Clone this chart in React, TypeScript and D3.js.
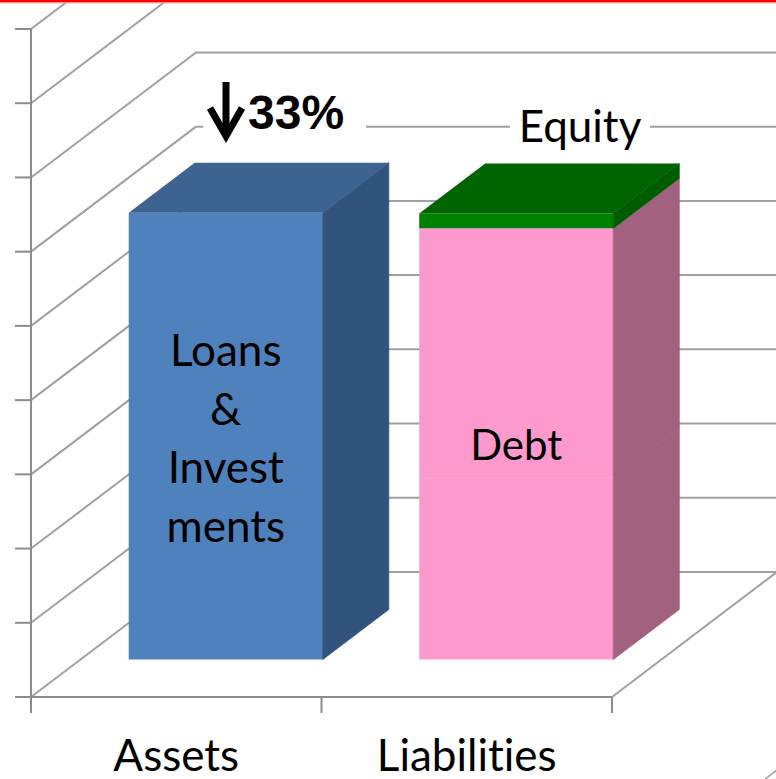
import React from "react";
import * as d3 from "d3";

// ---------- data ----------
const categories = ["Assets", "Liabilities"];
const loansInvestments = [6.02, 0];
const debtLower = [0, 2.45];
const debtUpper = [0, 3.36];
const equity = [0, 0.2];
const seriesKeys = ["loans", "debtLower", "debtUpper", "equity"];
const yTickValues = [0, 1, 2, 3, 4, 5, 6, 7, 8, 9];
const assetLabelLines = ["Loans", "&", "Invest", "ments"];
const debtLabel = "Debt";
const equityLabel = "Equity";
const changeLabel = "33%";

// ---------- styles ----------
const W = 776;
const H = 779;
const FONT = "Lato, 'Open Sans', sans-serif";
const faceColors: Record<string, { front: string; top: string; side: string }> = {
  loans: { front: "#4f81bd", top: "#3d6491", side: "#32547c" },
  debtLower: { front: "#fd99cc", top: "#c97aa3", side: "#a2627f" },
  debtUpper: { front: "#fd99cc", top: "#c97aa3", side: "#a2627f" },
  equity: { front: "#008000", top: "#006400", side: "#005c00" },
};

export default function App() {
  const floorY = 697;
  const axisX = 31;
  const plotRight = 612;
  const depth = { dx: 165, dy: -125 };
  const barDepth0 = 0.3;
  const barDepth1 = 0.7;

  const x = d3
    .scaleBand<string>()
    .domain(categories)
    .range([axisX, plotRight])
    .paddingInner(0.332)
    .paddingOuter(0.166);
  const y = d3.scaleLinear().domain([0, 9]).range([floorY, 29]);

  const table = categories.map((c, i) => ({
    category: c,
    loans: loansInvestments[i],
    debtLower: debtLower[i],
    debtUpper: debtUpper[i],
    equity: equity[i],
  }));
  const stacked = d3.stack<any>().keys(seriesKeys)(table);

  const off = (d: number) => [depth.dx * d, depth.dy * d];
  const [fdx, fdy] = off(barDepth0);
  const [bdx, bdy] = off(barDepth1);
  const ddx = bdx - fdx;
  const ddy = bdy - fdy;

  const gridColor = "#a0a0a0";
  const axisColor = "#8c8c8c";

  const topKey: Record<string, string> = {};
  categories.forEach((c, i) => {
    let last = "";
    stacked.forEach((s) => {
      if (s[i][1] - s[i][0] > 0) last = s.key;
    });
    topKey[c] = last;
  });

  const bars: React.ReactNode[] = [];
  categories.forEach((c, i) => {
    const x0 = (x(c) as number) + fdx;
    const x1 = x0 + x.bandwidth();
    stacked.forEach((s) => {
      const v0 = s[i][0];
      const v1 = s[i][1];
      if (v1 - v0 <= 0) return;
      const yb = y(v0) + fdy;
      const yt = y(v1) + fdy;
      const col = faceColors[s.key];
      bars.push(
        <g key={c + s.key}>
          <rect x={x0} y={yt} width={x1 - x0} height={yb - yt} fill={col.front} />
          <path
            d={`M${x1},${yt}L${x1 + ddx},${yt + ddy}L${x1 + ddx},${yb + ddy}L${x1},${yb}Z`}
            fill={col.side}
            stroke={col.side}
            strokeWidth={0.8}
          />
          {topKey[c] === s.key && (
            <path
              d={`M${x0},${yt}L${x0 + ddx},${yt + ddy}L${x1 + ddx},${yt + ddy}L${x1},${yt}Z`}
              fill={col.top}
            />
          )}
          {s.key === "debtLower" && (
            <line x1={x0} x2={x1} y1={yt} y2={yt} stroke="#ffb5db" strokeWidth={1} />
          )}
        </g>
      );
    });
  });

  const assetsCx = (x("Assets") as number) + fdx + x.bandwidth() / 2;
  const liabCx = (x("Liabilities") as number) + fdx + x.bandwidth() / 2;
  const debtMid = (y(0) + y(debtLower[1] + debtUpper[1])) / 2 + fdy;

  const tickGridY = yTickValues.map((v) => y(v));
  const textStyle = { fontVariantLigatures: "none" } as React.CSSProperties;

  return (
    <svg
      width={W}
      height={H}
      style={{ position: "absolute", left: 0, top: 0, background: "#fff" }}
    >
      <rect x={0} y={0} width={W} height={H} fill="#fff" />
      {/* left wall diagonals */}
      {tickGridY.map((ty, k) => (
        <line
          key={"d" + k}
          x1={axisX}
          y1={ty}
          x2={axisX + depth.dx}
          y2={ty + depth.dy}
          stroke={gridColor}
          strokeWidth={2}
        />
      ))}
      {/* back wall horizontals */}
      {tickGridY.map((ty, k) => (
        <line
          key={"h" + k}
          x1={axisX + depth.dx}
          y1={ty + depth.dy}
          x2={W}
          y2={ty + depth.dy}
          stroke={gridColor}
          strokeWidth={2}
        />
      ))}
      {/* floor */}
      <line x1={plotRight} y1={floorY} x2={plotRight + depth.dx} y2={floorY + depth.dy} stroke={gridColor} strokeWidth={2} />
      <line x1={765} y1={779} x2={777} y2={770} stroke={gridColor} strokeWidth={1.5} />
      <line x1={axisX} y1={floorY} x2={plotRight} y2={floorY} stroke={axisColor} strokeWidth={2} />
      {/* vertical axis */}
      <line x1={axisX} y1={y(9)} x2={axisX} y2={floorY + 16} stroke={axisColor} strokeWidth={2} />
      {yTickValues.map((v) => (
        <line key={"t" + v} x1={axisX - 16} x2={axisX} y1={y(v)} y2={y(v)} stroke={axisColor} strokeWidth={2} />
      ))}
      {[axisX, axisX + x.step(), plotRight].map((tx, i) => (
        <line key={"ct" + i} x1={tx} x2={tx} y1={floorY} y2={floorY + 16} stroke={axisColor} strokeWidth={2} />
      ))}
      {/* bars */}
      {bars}
      {/* labels */}
      <g fontFamily={FONT} fontSize={44} fill="#000" textAnchor="middle" style={textStyle}>
        {assetLabelLines.map((t, i) => (
          <text key={t} x={assetsCx} y={366 + i * 58.7}>
            {t}
          </text>
        ))}
        <text x={liabCx} y={debtMid + 16} fontSize={42}>
          {debtLabel}
        </text>
        {categories.map((c) => (
          <text key={c} x={(x(c) as number) + x.bandwidth() / 2} y={771}>
            {c}
          </text>
        ))}
      </g>
      {/* Equity callout */}
      <rect x={510} y={104} width={140} height={46} fill="#fff" />
      <text x={580} y={142} fontFamily={FONT} fontSize={44} textAnchor="middle" style={textStyle}>
        {equityLabel}
      </text>
      {/* 33% callout */}
      <rect x={203} y={80} width={163} height={64} fill="#fff" />
      <path d="M226,82L226,134" stroke="#000" strokeWidth={7} fill="none" />
      <path d="M210,108L226,136L242,108" stroke="#000" strokeWidth={7} fill="none" strokeLinejoin="miter" />
      <text x={248} y={129} fontFamily="'Liberation Sans', Arial, sans-serif" fontWeight="bold" fontSize={48}>
        {changeLabel}
      </text>
      {/* red top border */}
      <rect x={0} y={0} width={W} height={2.5} fill="#ff0000" />
      <rect x={0} y={2.5} width={W} height={1} fill="#ffb0b0" />
    </svg>
  );
}
